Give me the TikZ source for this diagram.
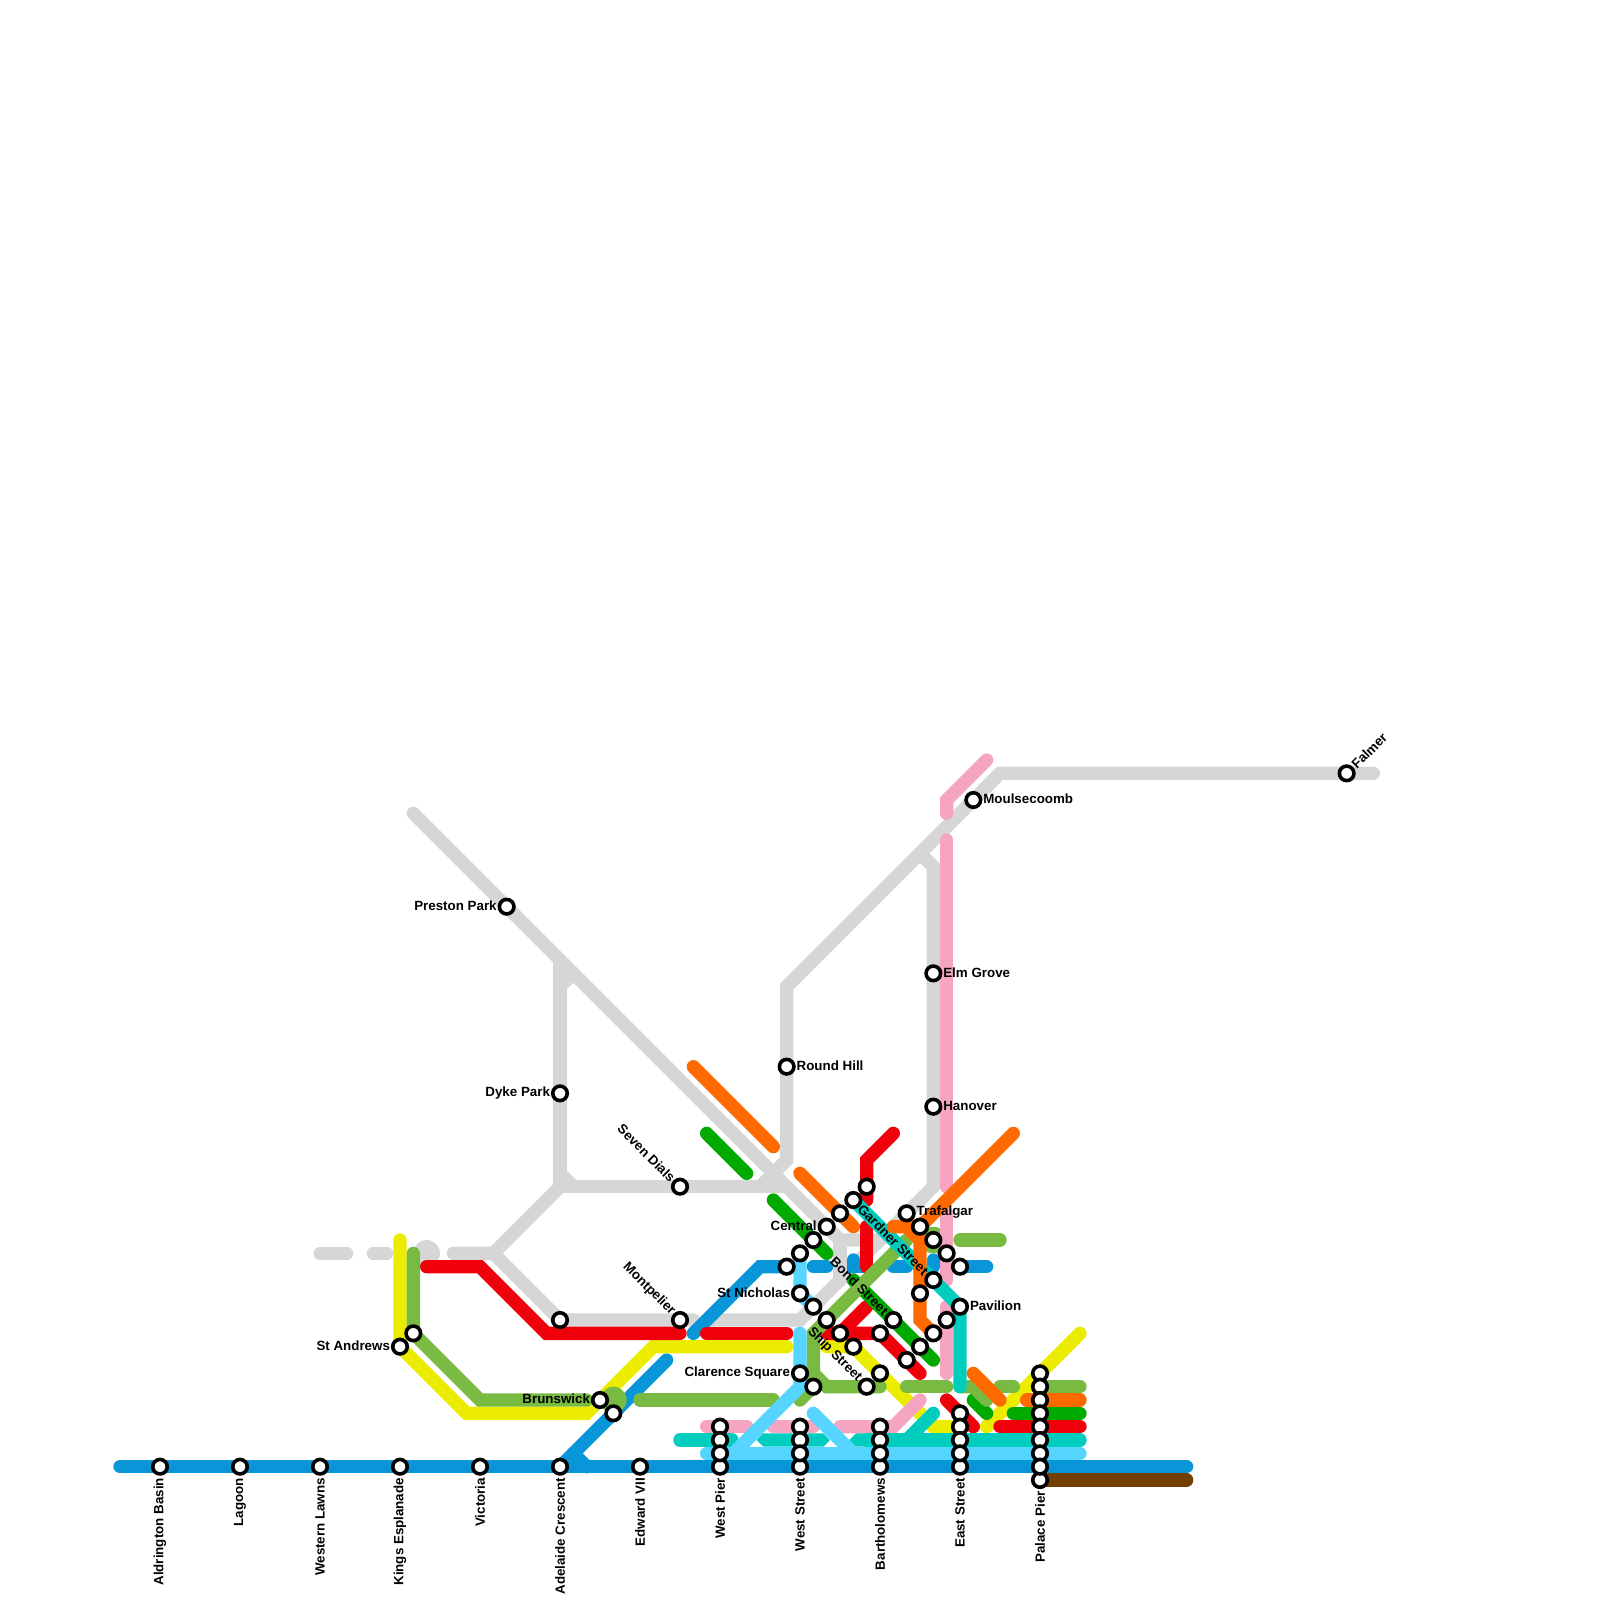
\documentclass[tikz,border=0pt]{standalone}
\usepackage{fontspec}
\setmainfont{Liberation Sans}
\usetikzlibrary{positioning}
\definecolor{colGrey}{RGB}{214,214,214}
\definecolor{colBlue}{RGB}{9,150,216}
\definecolor{colBrown}{RGB}{115,63,0}
\definecolor{colRed}{RGB}{240,0,10}
\definecolor{colOrange}{RGB}{255,106,0}
\definecolor{colYellow}{RGB}{236,236,0}
\definecolor{colGreen}{RGB}{120,186,66}
\definecolor{colForest}{RGB}{0,170,0}
\definecolor{colTeal}{RGB}{0,205,190}
\definecolor{colSky}{RGB}{85,213,255}
\definecolor{colPink}{RGB}{245,165,193}

\begin{document}
\begin{tikzpicture}[
    x=1mm, y=-1mm,
    ln/.style={line width=1mm, line cap=round},
    stop/.style={draw, circle, fill=white, line width=0.27mm, minimum size=1.09mm, inner sep=0pt},
    lab/.style={font=\bfseries\fontsize{2.85pt}{3pt}\selectfont, inner sep=0pt, node distance=0mm}
]
    \useasboundingbox (0,0) rectangle (120,120);

    % grey branches
    \draw[ln, colGrey] (31,61) -- (63,93) -- (66,93);
    \draw[ln, colGrey] (63,93) -- (63,96);
    \draw[ln, colGrey] (53,99) -- (60,99) -- (70,89) -- (70,65) -- (69,64);
    \draw[ln, colGrey] (103,58) -- (75,58) -- (59,74) -- (59,87) -- (57,89);
    \draw[ln, colGrey] (42,72) -- (42,89) -- (59,89);
    \draw[ln, colGrey] (42,74) -- (43,73);
    \draw[ln, colGrey] (42,88) -- (43,89);
    \draw[ln, colGrey] (34,94) -- (37,94) -- (42,89);
    \draw[ln, colGrey] (37,94) -- (42,99) -- (52,99);
    \draw[ln, colGrey] (24,94) -- (26,94);
    \draw[ln, colGrey] (28,94) -- (29,94);
    \fill[colGrey] (32,94) circle (1);

    % blue
    \draw[ln, colBlue] (9,110) -- (89,110);
    \draw[ln, colBlue] (42,110) -- (50,102);
    \draw[ln, colBlue] (43,109) -- (44,110);
    \draw[ln, colBlue] (52,100) -- (57,95) -- (59,95);
    \draw[ln, colBlue] (61,95) -- (62,95);
    \draw[ln, colBlue] (64,94.5) -- (64,95) -- (65,95);
    \draw[ln, colBlue] (67,95) -- (68,95);
    \draw[ln, colBlue] (70,94.5) -- (70,95);
    \draw[ln, colBlue] (72,95) -- (74,95);
    \draw[ln, colBrown] (78,111) -- (89,111);

    % yellow
    \draw[ln, colYellow] (30,93) -- (30,101) -- (35,106) -- (44,106) -- (49,101) -- (59,101);
    \draw[ln, colYellow] (62,101) -- (64,101) -- (70,107) -- (72,107);
    \draw[ln, colYellow] (74,107) -- (81,100);

    % red
    \draw[ln, colRed] (32,95) -- (36,95) -- (41,100) -- (51,100);
    \draw[ln, colRed] (53,100) -- (59,100);
    \draw[ln, colRed] (67,85) -- (65,87) -- (65,90);
    \draw[ln, colRed] (65,92) -- (65,95);
    \draw[ln, colRed] (62,100) -- (66,100) -- (69,103);
    \draw[ln, colRed] (63,100) -- (65,98);
    \draw[ln, colRed] (71,105) -- (73,107);
    \draw[ln, colRed] (75,107) -- (81,107);

    % dark green
    \draw[ln, colForest] (53,85) -- (56,88);
    \draw[ln, colForest] (58,90) -- (62,94);
    \draw[ln, colForest] (64,96) -- (70,102);
    \draw[ln, colForest] (73,105) -- (74,106);
    \draw[ln, colForest] (76,106) -- (81,106);

    % light green
    \draw[ln, colGreen] (31,94) -- (31,100) -- (36,105) -- (44,105);
    \draw[ln, colGreen] (48,105) -- (58,105);
    \draw[ln, colGreen] (60,105) -- (61,104) -- (61,100) -- (68,93);
    \draw[ln, colGreen] (61,103) -- (62,104) -- (66,104);
    \draw[ln, colGreen] (68,104) -- (71,104);
    \draw[ln, colGreen] (72,104) -- (73,104) -- (74,105);
    \draw[ln, colGreen] (75,104) -- (76,104);
    \draw[ln, colGreen] (78,104) -- (81,104);
    \draw[ln, colGreen] (72,93) -- (75,93);
    \fill[colGreen] (46,105) circle (1);
    \fill[colGreen] (70,93) circle (1);

    % pink
    \draw[ln, colPink] (74,57) -- (71,60) -- (71,61);
    \draw[ln, colPink] (71,63) -- (71,89);
    \draw[ln, colPink] (71,91) -- (71,96);
    \draw[ln, colPink] (71,98) -- (71,103);
    \draw[ln, colPink] (53,107) -- (56,107);
    \draw[ln, colPink] (58,107) -- (61,107);
    \draw[ln, colPink] (63,107) -- (67,107) -- (69,105);

    % teal, the level pieces stop in a point beside the light blue
    \draw[ln, colTeal] (64,90) -- (72,98) -- (72,104);
    \draw[ln, colTeal] (51,108) -- (54.9,108);
    \fill[colTeal] (54.9,107.5) -- (55.4,108) -- (54.9,108.5) -- cycle;
    \fill[colTeal] (57.25,107.5) -- (56.75,108) -- (57.25,108.5) -- (61.75,108.5) -- (62.25,108) -- (61.75,107.5) -- cycle;
    \draw[ln, colTeal] (65,108) -- (81,108);
    \fill[colTeal] (64.2,107.5) -- (63.7,108) -- (64.2,108.5) -- (65,108.5) -- (65,107.5) -- cycle;
    \draw[ln, colTeal] (68,108) -- (70,106);

    % light blue
    \draw[ln, colSky] (60,94) -- (60,97) -- (61,98);
    \draw[ln, colSky] (60,100) -- (60,104) -- (55,109);
    \draw[ln, colSky] (53,109) -- (81,109);
    \draw[ln, colSky] (61,106) -- (64,109);

    % orange
    \draw[ln, colOrange] (52,80) -- (58,86);
    \draw[ln, colOrange] (60,88) -- (64,92);
    \draw[ln, colOrange] (76,85) -- (69,92) -- (67,92);
    \draw[ln, colOrange] (68,92) -- (69,93) -- (69,99) -- (70,100);
    \draw[ln, colOrange] (73,103) -- (75,105);
    \draw[ln, colOrange] (77,105) -- (81,105);

    % stops
    \foreach \nm/\x/\y in {aldrington/12/110, lagoon/18/110, lawns/24/110, esplanade/30/110,
        victoria/36/110, adelaide/42/110, edward/48/110, westpier/54/110, weststreet/60/110,
        bartholomews/66/110, eaststreet/72/110, palace/78/111,
        andrews/30/101, sa/31/100, sb/42/99, brunswick/45/105, sc/46/106,
        preston/38/68, dyke/42/82, dials/51/89, montpelier/51/99, roundhill/59/80,
        elm/70/73, hanover/70/83, moulsecoomb/73/60, falmer/101/58,
        sd/59/95, se/60/94, nicholas/60/97, clarence/60/103, sf/61/93, sg/61/98, sh/61/104,
        central/62/92, si/62/99, sj/63/91, sk/63/100, sl/64/90, sm/64/101, sn/65/89,
        ship/65/104, so/66/100, sp/66/103, bond/67/99, sq/68/102, trafalgar/68/91,
        sr/69/92, st/69/97, su/69/101, sv/70/93, gardner/70/96, sw/70/100,
        sx/71/94, sy/71/99, sz/72/95, pavilion/72/98, ea/72/106}
        \node[stop] (\nm) at (\x,\y) {};
    \foreach \c/\nm in {54/wp, 60/ws, 66/ba}
        \foreach \y in {107,108,109}
            \node[stop] (\nm\y) at (\c,\y) {};
    \foreach \y in {107,108,109}
        \node[stop] (es\y) at (72,\y) {};
    \foreach \y in {103,...,110}
        \node[stop] (pp\y) at (78,\y) {};

    % labels under the main line
    \foreach \nm/\txt in {aldrington/Aldrington Basin, lagoon/Lagoon, lawns/Western Lawns,
        esplanade/Kings Esplanade, victoria/Victoria, adelaide/Adelaide Crescent,
        edward/Edward VII, westpier/West Pier, weststreet/West Street,
        bartholomews/Bartholomews, eaststreet/East Street, palace/Palace Pier}
        \node[lab, below=0.1mm of \nm, rotate=90, anchor=east] (\nm-lab) {\txt};

    \foreach \nm/\txt in {roundhill/Round Hill, elm/Elm Grove, hanover/Hanover,
        moulsecoomb/Moulsecoomb, trafalgar/Trafalgar, pavilion/Pavilion}
        \node[lab, right=of \nm, yshift=0.06mm] (\nm-lab) {\txt};

    \foreach \nm/\txt in {preston/Preston Park, dyke/Dyke Park, andrews/St Andrews,
        brunswick/Brunswick, central/Central, nicholas/St Nicholas, clarence/Clarence Square}
        \node[lab, left=of \nm, yshift=0.06mm] (\nm-lab) {\txt};

    \foreach \nm/\txt in {dials/Seven Dials, montpelier/Montpelier,
        gardner/Gardner Street, bond/Bond Street, ship/Ship Street}
        \node[lab, above left=0mm and 0mm of \nm, rotate=-45, anchor=east] (\nm-lab) {\txt};

    \node[lab, above right=0mm and 0mm of falmer, rotate=45, anchor=west] (falmer-lab) {Falmer};
\end{tikzpicture}
\end{document}
